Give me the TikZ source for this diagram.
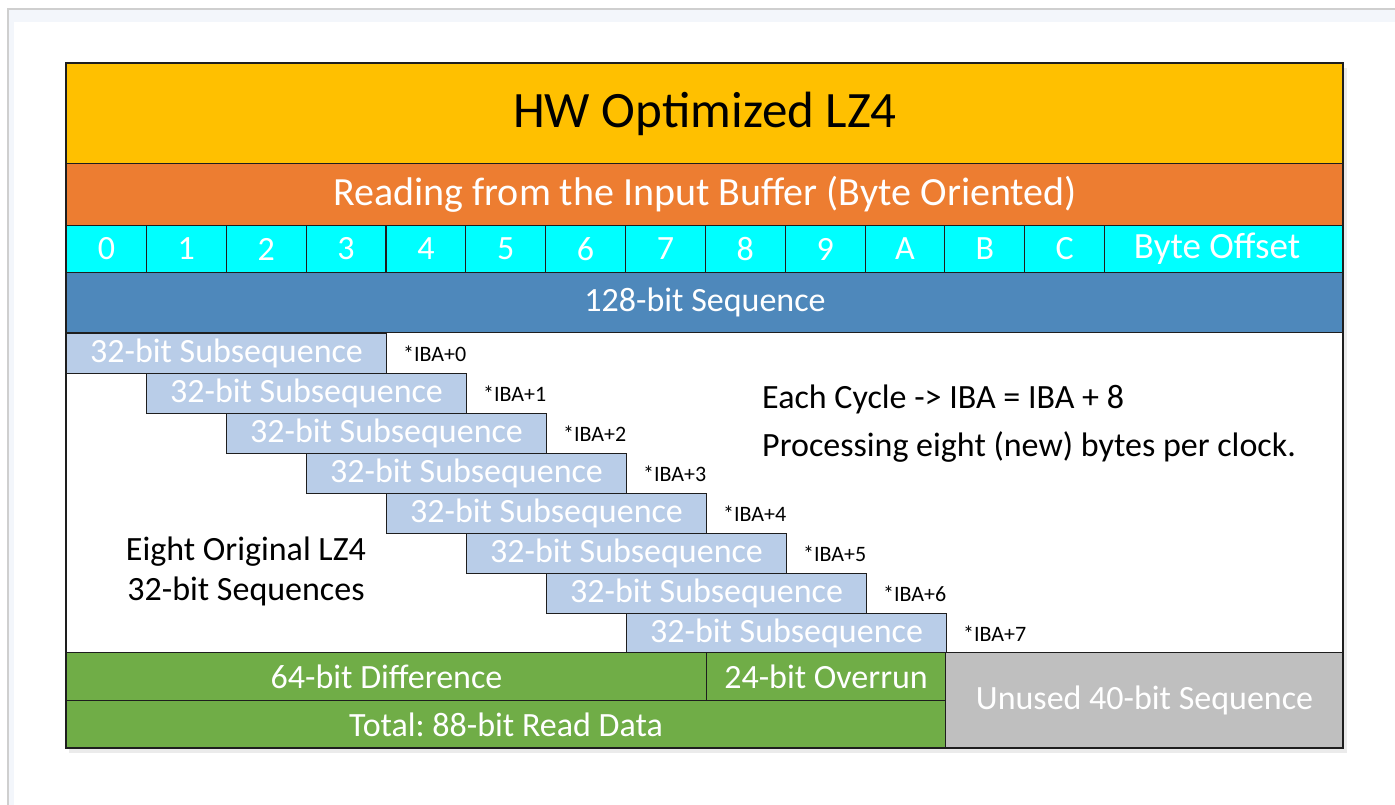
\documentclass[tikz,border=0pt]{standalone}
\usepackage{fontspec}
\setmainfont{Carlito}
\frenchspacing
\definecolor{cTitle}{HTML}{FFC000}
\definecolor{cOrange}{HTML}{ED7D31}
\definecolor{cCyan}{HTML}{00FFFF}
\definecolor{cBlue}{HTML}{4E88BB}
\definecolor{cSub}{HTML}{B9CDE8}
\definecolor{cGreen}{HTML}{70AD47}
\definecolor{cGray}{HTML}{BFBFBF}
\definecolor{cEdge}{HTML}{1E1E1E}
\definecolor{cPage}{HTML}{CFCFCF}
\definecolor{cBand}{HTML}{F3F6FB}
\begin{document}
\begin{tikzpicture}[x=1pt,y=-1pt,
  cell/.style={draw=cEdge, line width=1.1pt, inner sep=0pt, anchor=north west, text=white},
  big/.style={font=\fontsize{34}{40}\selectfont},
  lbl/.style={inner sep=0pt, anchor=west, font=\fontsize{22}{26}\selectfont},
  note/.style={inner sep=0pt, anchor=west, font=\fontsize{34}{40}\selectfont}]
\useasboundingbox (0,0) rectangle (1395,805);
\fill[white] (0,0) rectangle (1395,805);
% page frame
\fill[cBand] (9,10) rectangle (1395,22);
\fill[cBand] (9,10) rectangle (14,805);
\draw[cPage, line width=1.2pt] (8,805) -- (8,9) -- (1395,9);
% shadow
\fill[black, opacity=0.08] (69,68) rectangle (1347,753);
\fill[white] (66,63) rectangle (1343,748);
% title and header bands
\node[cell, fill=cTitle, text=black, minimum width=1277, minimum height=100, font=\fontsize{51}{60}\selectfont] (title) at (66,63) {HW Optimized LZ4};
\node[cell, fill=cOrange, minimum width=1277, minimum height=62, font=\fontsize{40}{46}\selectfont] (read) at (66,163) {Reading from the Input Buffer (Byte Oriented)};
\foreach \i/\t in {0/0,1/1,2/2,3/3,4/4,5/5,6/6,7/7,8/8,9/9,10/A,11/B,12/C}{
  \node[cell, fill=cCyan, big, minimum width=79.85, minimum height=47] (b\i) at ({66+79.85*\i},225) {\t};
}
\node[cell, fill=cCyan, minimum width=239, minimum height=47, font=\fontsize{37}{44}\selectfont] (boff) at (1104,225) {Byte Offset\hspace*{14pt}};
\node[cell, fill=cBlue, big, minimum width=1277, minimum height=60] (seq) at (66,272) {128-bit Sequence};
% subsequences
\foreach \k in {0,...,7}{
  \node[cell, fill=cSub, big, minimum width=320, minimum height=40] (s\k) at ({66+80*\k},{333+40*\k}) {32-bit Subsequence};
  \node[lbl] (l\k) at ({403+80*\k},{354+40*\k}) {*IBA+\k};
}
\node[note] (n1) at (762,399) {Each Cycle -> IBA = IBA + 8};
\node[note] (n2) at (762,447) {Processing eight (new) bytes per clock.};
\node[inner sep=0pt, align=center, font=\fontsize{34}{40}\selectfont] (orig) at (246,571) {Eight Original LZ4\\32-bit Sequences};
% bottom rows
\node[cell, fill=cGreen, big, minimum width=640, minimum height=48] (diff) at (66,652) {64-bit Difference};
\node[cell, fill=cGreen, big, minimum width=239, minimum height=48] (over) at (706,652) {24-bit Overrun};
\node[cell, fill=cGreen, big, minimum width=879, minimum height=48] (total) at (66,700) {Total: 88-bit Read Data};
\node[cell, fill=cGray, big, minimum width=398, minimum height=96] (unused) at (945,652) {Unused 40-bit Sequence};
% outer frame
\draw[cEdge, line width=1.4pt] (66,63) rectangle (1343,748);
\end{tikzpicture}
\end{document}
